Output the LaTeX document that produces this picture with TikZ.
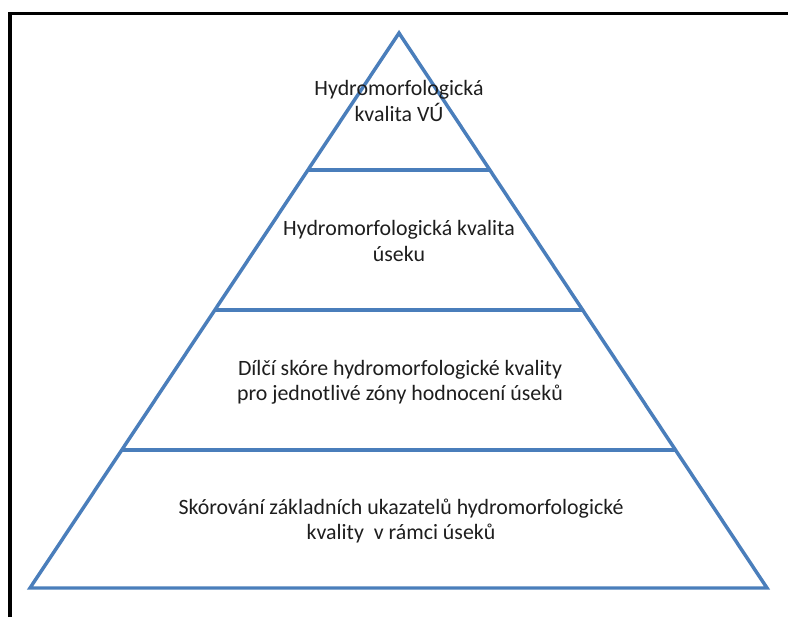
\documentclass[tikz,border=0pt]{standalone}
\usepackage{fontspec}
\setmainfont{Carlito}
\usetikzlibrary{calc}
\definecolor{pyrblue}{HTML}{4A7EBB}
\definecolor{txtgray}{HTML}{1E1E1E}
\tikzset{
  tier/.style={draw=pyrblue, line width=2.6pt, line join=miter},
  label/.style={align=center, text=txtgray, font=\fontsize{16.4}{18.8}\selectfont, inner sep=0pt},
  frame/.style={draw=black, line width=2.4pt}
}
\begin{document}
\begin{tikzpicture}[x=0.75pt, y=-0.75pt]
\useasboundingbox (0,0) rectangle (788,617);
\fill[white] (0,0) rectangle (788,617);
% frame (left and top edges)
\coordinate (fb) at (10,617);
\coordinate (fc) at (10,13.5);
\coordinate (fr) at (788,13.5);
\draw[frame] (fb) -- (fc) -- (fr);
% pyramid
\coordinate (apex) at (399,33);
\coordinate (bl) at (30,588);
\coordinate (br) at (767,588);
\draw[tier] (apex) -- (bl) -- (br) -- cycle;
\coordinate (l1) at ($(apex)!0.2468!(bl)$);
\coordinate (r1) at ($(apex)!0.2468!(br)$);
\coordinate (l2) at ($(apex)!0.4991!(bl)$);
\coordinate (r2) at ($(apex)!0.4991!(br)$);
\coordinate (l3) at ($(apex)!0.7514!(bl)$);
\coordinate (r3) at ($(apex)!0.7514!(br)$);
\draw[tier] (l1) -- (r1);
\draw[tier] (l2) -- (r2);
\draw[tier] (l3) -- (r3);
% labels
\node[label] (t1) at (399,101) {Hydromorfologická\\kvalita VÚ};
\node[label] (t2) at (399,241) {Hydromorfologická kvalita\\úseku};
\node[label] (t3) at (400,382) {Dílčí skóre hydromorfologické kvality\\pro jednotlivé zóny hodnocení úseků};
\node[label] (t4) at (401,521) {Skórování základních ukazatelů hydromorfologické\\kvality \ v rámci úseků};
\end{tikzpicture}
\end{document}
